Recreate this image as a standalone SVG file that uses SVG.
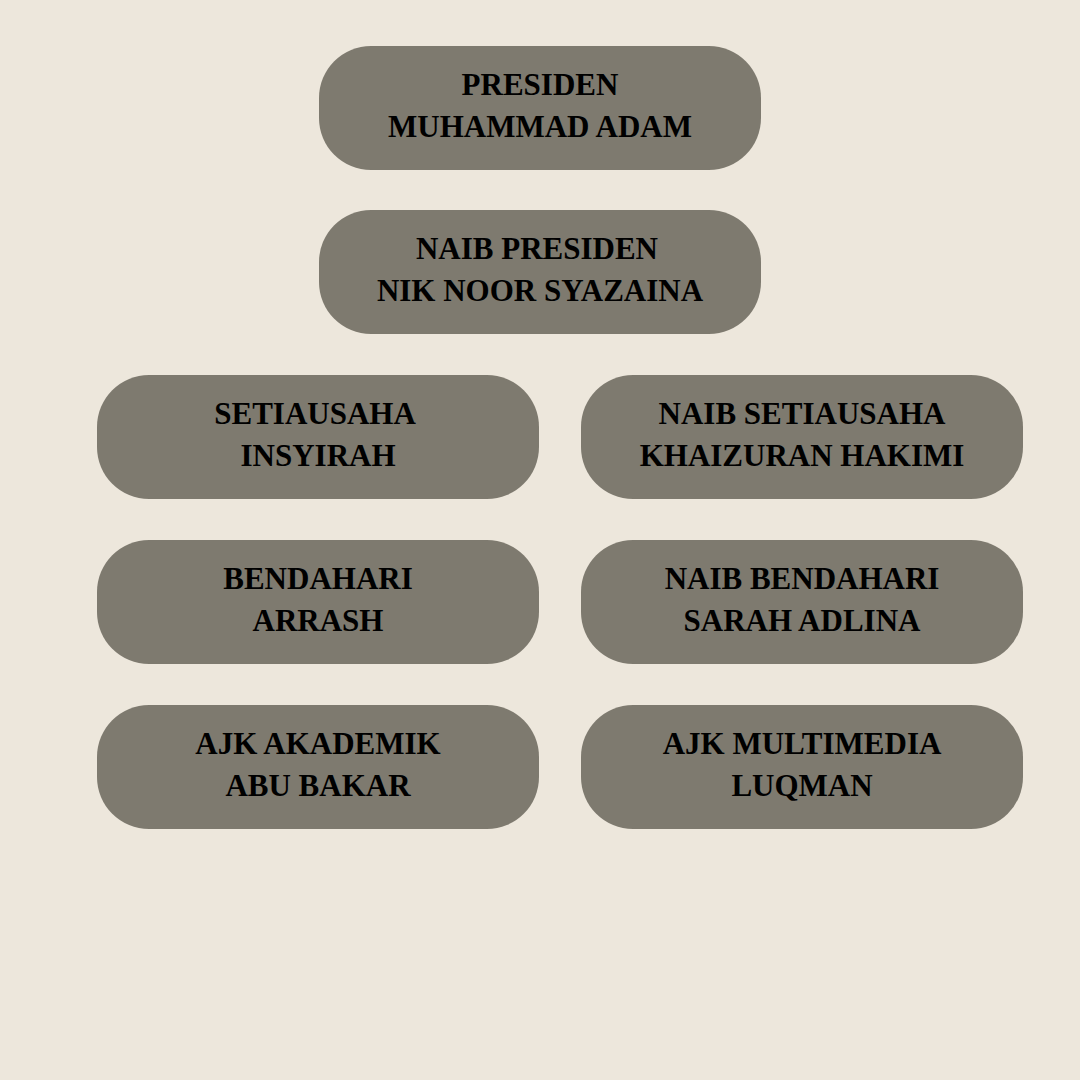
<svg xmlns="http://www.w3.org/2000/svg" width="1080" height="1080" viewBox="0 0 1080 1080">
<style>
.box{fill:#7e7a6f}
.t{font-family:"Liberation Serif","DejaVu Serif",serif;font-weight:bold;font-size:31px;fill:#000;text-anchor:middle}
</style>
<rect width="1080" height="1080" fill="#ede7dc"/>
<g id="connectors"></g>
<g id="presiden"><rect class="box" x="319" y="46" width="442" height="124" rx="52"/><text class="t" x="540" y="95">PRESIDEN</text><text class="t" x="540" y="137">MUHAMMAD ADAM</text></g>
<g id="naib-presiden"><rect class="box" x="319" y="210" width="442" height="124" rx="52"/><text class="t" x="537" y="259">NAIB PRESIDEN</text><text class="t" x="540" y="301">NIK NOOR SYAZAINA</text></g>
<g id="setiausaha"><rect class="box" x="97" y="375" width="442" height="124" rx="52"/><text class="t" x="315" y="424">SETIAUSAHA</text><text class="t" x="318" y="466">INSYIRAH</text></g>
<g id="naib-setiausaha"><rect class="box" x="581" y="375" width="442" height="124" rx="52"/><text class="t" x="802" y="424">NAIB SETIAUSAHA</text><text class="t" x="802" y="466">KHAIZURAN HAKIMI</text></g>
<g id="bendahari"><rect class="box" x="97" y="540" width="442" height="124" rx="52"/><text class="t" x="318" y="589">BENDAHARI</text><text class="t" x="318" y="631">ARRASH</text></g>
<g id="naib-bendahari"><rect class="box" x="581" y="540" width="442" height="124" rx="52"/><text class="t" x="802" y="589">NAIB BENDAHARI</text><text class="t" x="802" y="631">SARAH ADLINA</text></g>
<g id="ajk-akademik"><rect class="box" x="97" y="705" width="442" height="124" rx="52"/><text class="t" x="318" y="754">AJK AKADEMIK</text><text class="t" x="318" y="796">ABU BAKAR</text></g>
<g id="ajk-multimedia"><rect class="box" x="581" y="705" width="442" height="124" rx="52"/><text class="t" x="802" y="754">AJK MULTIMEDIA</text><text class="t" x="802" y="796">LUQMAN</text></g>
</svg>
